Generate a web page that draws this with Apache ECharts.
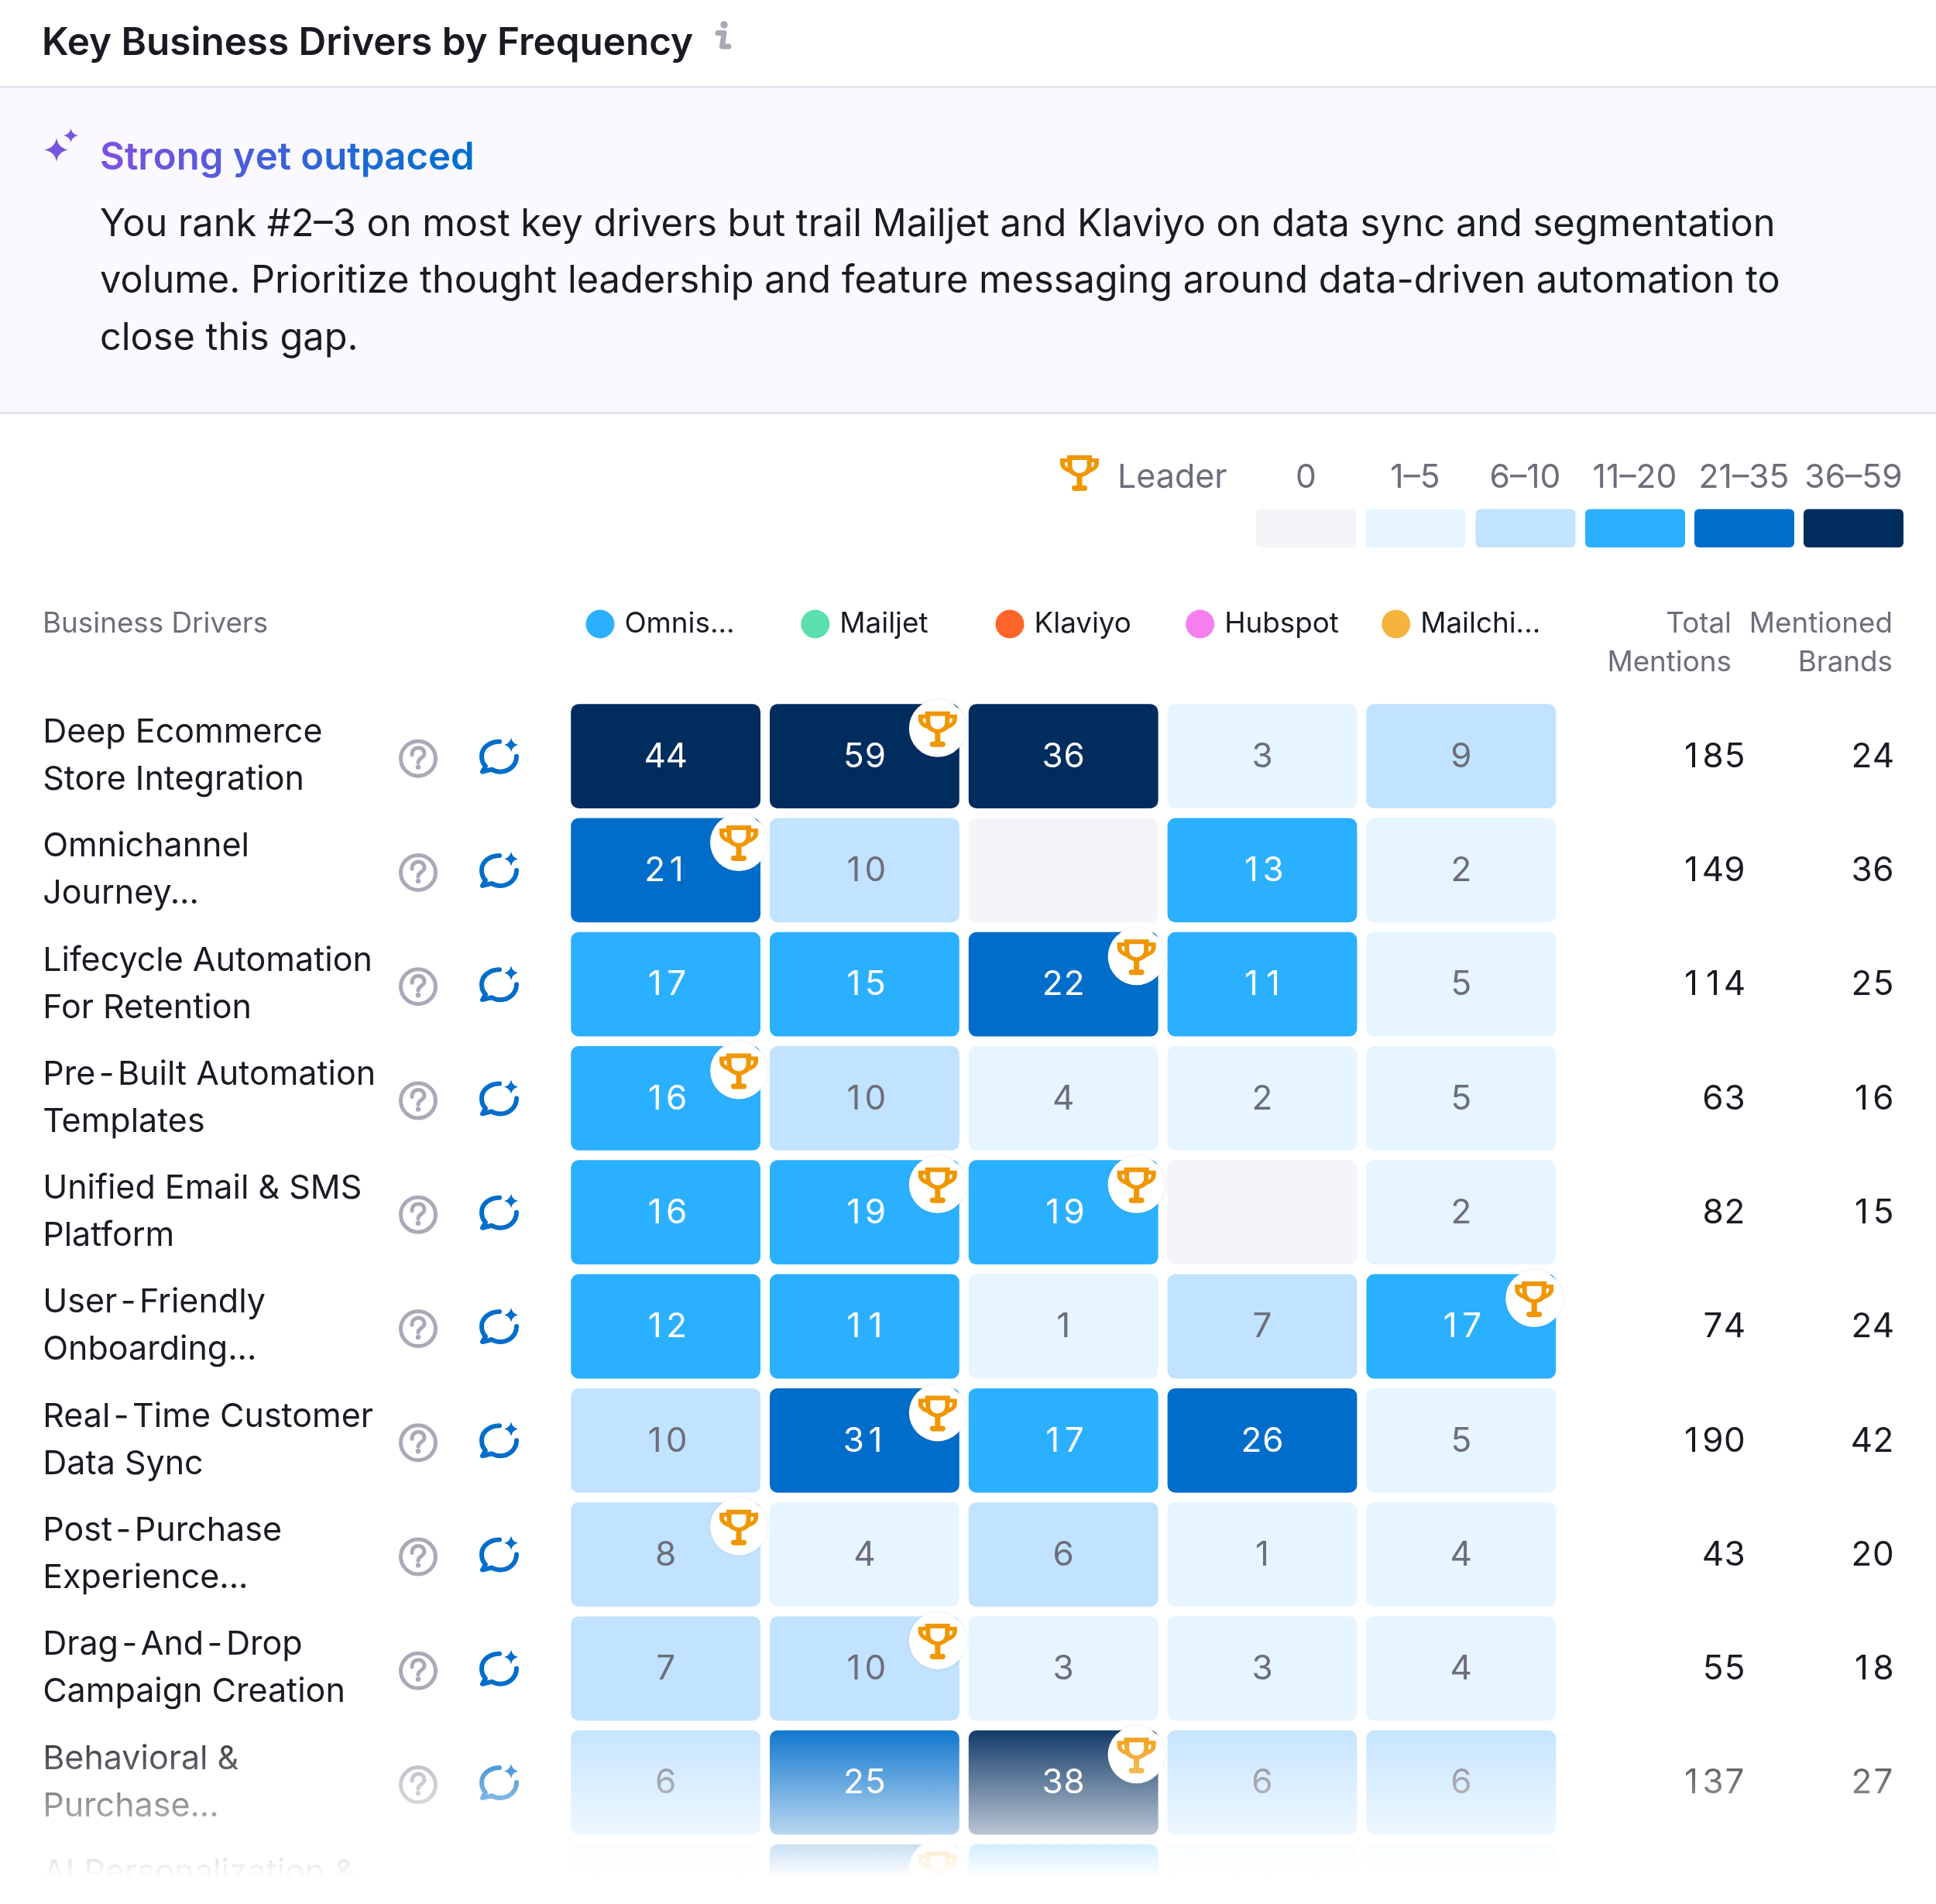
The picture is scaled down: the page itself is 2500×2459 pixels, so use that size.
<!DOCTYPE html>
<html><head><meta charset="utf-8">
<style>html,body{margin:0;padding:0;background:#fff;width:2500px;height:2459px;overflow:hidden}#w{width:2500px;height:2459px;overflow:hidden}#c{width:2500px;height:2600px}</style>
<script src="https://cdn.jsdelivr.net/npm/echarts@6/dist/echarts.min.js"></script>
</head><body><div id="w"><div id="c"></div></div>
<script>
const titleText = 'Key Business Drivers by Frequency';
const insightHead = 'Strong yet outpaced';
const insightLines = [
  'You rank #2\u20133 on most key drivers but trail Mailjet and Klaviyo on data sync and segmentation',
  'volume. Prioritize thought leadership and feature messaging around data-driven automation to',
  'close this gap.'
];
const drivers = [
  'Deep Ecommerce\nStore Integration','Omnichannel\nJourney...','Lifecycle Automation\nFor Retention',
  'Pre-Built Automation\nTemplates','Unified Email & SMS\nPlatform','User-Friendly\nOnboarding...',
  'Real-Time Customer\nData Sync','Post-Purchase\nExperience...','Drag-And-Drop\nCampaign Creation',
  'Behavioral &\nPurchase...','AI Personalization &\n'
];
const brands = ['Omnis...','Mailjet','Klaviyo','Hubspot','Mailchi...'];
const brandColors = ['#2bb0ff','#59e0ad','#ff642d','#f67fee','#f5b53d'];
// last row is almost faded out: its values are estimated from the tint of the cells
const omnisend = [44,21,17,16,16,12,10,8,7,6,0];
const mailjet  = [59,10,15,10,19,11,31,4,10,25,24];
const klaviyo  = [36,0,22,4,19,1,17,6,3,38,12];
const hubspot  = [3,13,11,2,0,7,26,1,3,6,2];
const mailchi  = [9,2,5,5,2,17,5,4,4,6,1];
const totalMentions = [185,149,114,63,82,74,190,43,55,137,null];
const mentionedBrands = [24,36,25,16,15,24,42,20,18,27,null];
const leaderCol = [[1],[0],[2],[0],[1,2],[4],[1],[0],[1],[2],[1]];
const binLabels = ['0','1\u20135','6\u201310','11\u201320','21\u201335','36\u201359'];
const binMax = [0,5,10,20,35,59];
const binColors = ['#f4f5f9','#e6f5ff','#c2e3ff','#2bb0ff','#006dca','#002c5e'];

const FONT = 'Inter';
const DARK = '#191b23', GREY = '#6c6e79';
const TROPHY = 'M9 0H41V4H50V10C50 16 45 20 39 22C36 25 32 27 28.5 28V39H32C34.5 39 35 41 35 42.5C35 44.5 33.5 46 32 46H18C16.5 46 15 44.5 15 42.5C15 41 15.5 39 18 39H21.5V28C18 27 14 25 11 22C5 20 0 16 0 10V4H9ZM15.5 6V14C15.5 19 20 23 25 23C30 23 34.5 19 34.5 14V6ZM6 9V11C6 13 7.5 15 9.5 16V9ZM44 9H40.5V16C42.5 15 44 13 44 11Z';
const BUBBLE = 'M25 5C12 5 2 13 2 24C2 29 4 34 7 37L3 44L15 41C19 43.5 22 44 26 44C38 44 47 35 47 24';
const STAR = 'M40 0Q41.5 7.5 49 9.3Q41.5 11 40 18.6Q38.5 11 31 9.3Q38.5 7.5 40 0Z';
const QMARK = 'M-8 -5C-8 -11 -4 -14 0 -14C5 -14 8 -11 8 -6C8 -1 0 -1 0 5';

const series5 = [omnisend,mailjet,klaviyo,hubspot,mailchi];
const cellData = [];
series5.forEach((arr,c)=>arr.forEach((v,r)=>cellData.push([c,r,v,leaderCol[r].includes(c)?1:0])));
const rowData = drivers.map((d,r)=>[0,r,totalMentions[r]==null?'-':totalMentions[r],mentionedBrands[r]==null?'-':mentionedBrands[r]]);
const colorFor = v => binColors[binMax.findIndex(m=>v<=m)];
const txt = (text,x,y,fill,font,align,z) => ({type:'text',x,y,z:z||5,style:{text,fill,font,align:align||'left',verticalAlign:'middle'}});
const F = (w,s)=>`${w} ${s}px ${FONT}`;
// tabular figures: every digit sits in a fixed slot
const tabular = (n,fill,x,y,align,z2) => ({type:'text',x,y,z2:z2||5,style:{
  text:String(n).split('').map(d=>`{d|${d}}`).join(''),align,verticalAlign:'middle',
  rich:{d:{width:28,align:'center',fill,fontFamily:FONT,fontSize:44}}}});

function trophyEl(x,y,fill){
  return {type:'path',z2:12,shape:{pathData:TROPHY,x,y,width:50,height:46,layout:'cover'},style:{fill}};
}
function hexMix(a,b,t){
  const p=h=>[1,3,5].map(i=>parseInt(h.substr(i,2),16));
  const A=p(a),B=p(b);
  return 'rgb('+A.map((v,i)=>Math.round(v+(B[i]-v)*t)).join(',')+')';
}
const headChars = insightHead.split('');
const headRich = {};
headChars.forEach((c,i)=>{headRich['c'+i]={fill:hexMix('#7a52e0','#0070d0',i/(headChars.length-1)),fontFamily:FONT,fontWeight:600,fontSize:49.1};});
const headFormatted = headChars.map((c,i)=>`{c${i}|${c}}`).join('');

const graphicEls = [
  {type:'rect',z:1,shape:{x:0,y:113,width:2500,height:420},style:{fill:{type:'linear',x:0,y:0,x2:1,y2:0,colorStops:[{offset:0,color:'#fbf9ff'},{offset:1,color:'#f7f9fe'}]}}},
  {type:'rect',z:2,shape:{x:0,y:111,width:2500,height:2.5},style:{fill:'#e0e1e9'}},
  {type:'rect',z:2,shape:{x:0,y:532,width:2500,height:2.5},style:{fill:'#e0e1e9'}},
  txt(titleText,54,56,DARK,F(600,49.4)),
  // info icon
  {type:'circle',z:5,shape:{cx:935,cy:32,r:4.7},style:{fill:'#a8a9b6'}},
  {type:'polyline',z:5,shape:{points:[[927,42.5],[935,42.5],[932.5,60],[941,60]]},style:{fill:null,stroke:'#a8a9b6',lineWidth:7,lineCap:'round',lineJoin:'round'}},
  {type:'text',x:129,y:204,z:5,style:{text:headFormatted,rich:headRich,align:'left',verticalAlign:'middle'}},
  ...insightLines.map((l,i)=>txt(l,129,290+i*73.5,DARK,F(400,48.7))),
  // legend
  txt('Leader',1443,617,GREY,F(400,43)),
  ...binLabels.map((l,i)=>txt(l,[1686.5,1827.5,1969.5,2111,2252,2393.5][i],617,GREY,F(400,42.6),'center')),
  ...binColors.map((c,i)=>({type:'rect',z:5,shape:{x:[1622,1763.5,1905.5,2047,2188,2329][i],y:657.5,width:129,height:49.5,r:6},style:{fill:c}})),
  txt('Business Drivers',55,806,GREY,F(400,36.8)),
  txt('Total',2236,806,GREY,F(400,36.8),'right'),
  txt('Mentions',2236,856,GREY,F(400,36.8),'right'),
  txt('Mentioned',2444,806,GREY,F(400,36.8),'right'),
  txt('Brands',2444,856,GREY,F(400,36.8),'right'),
  // bottom fade
  {type:'rect',z:1000,shape:{x:0,y:2220,width:2500,height:380},style:{fill:{type:'linear',x:0,y:0,x2:0,y2:1,colorStops:[{offset:0,color:'rgba(255,255,255,0)'},{offset:205/380,color:'rgba(255,255,255,1)'},{offset:1,color:'rgba(255,255,255,1)'}]}}}
];

const richX = {g:{width:13},n:{fontFamily:FONT,fontSize:36.8,color:DARK,lineHeight:50,verticalAlign:'middle'},s:{width:14}};
brandColors.forEach((c,i)=>{richX['d'+i]={width:37,height:37,borderRadius:18.5,backgroundColor:c};});

const option = {
  animation:false,
  backgroundColor:'#fff',
  grid:{left:731.2,top:903,width:1284,height:1620,containLabel:false},
  xAxis:{type:'category',position:'top',data:brands,axisLine:{show:false},axisTick:{show:false},splitLine:{show:false},
    axisLabel:{interval:0,margin:72,formatter:(v,i)=>`{d${i}|}{g|}{n|${v}}`+(i===0?'{s|}':''),rich:richX}},
  yAxis:{type:'category',inverse:true,data:drivers,axisLine:{show:false},axisTick:{show:false},splitLine:{show:false},
    axisLabel:{interval:0,align:'left',margin:676,color:DARK,fontFamily:FONT,fontSize:43,lineHeight:61,
      formatter:v=>v.replace(/-/g,'{h|-}'),
      rich:{h:{padding:[0,4.5],color:DARK,fontFamily:FONT,fontSize:43,lineHeight:61}}}},
  graphic:{elements:graphicEls},
  series:[
    {type:'custom',name:'decor',data:[[0,0]],clip:false,encode:{x:0,y:1},z:6,
     renderItem(){
       return {type:'group',children:[
         {type:'path',shape:{pathData:'M16 0Q18 13 31 15.5Q18 18 16 31Q14 18 0 15.5Q14 13 16 0Z',x:57,y:178,width:31,height:31,layout:'cover'},style:{fill:'#7756dd'}},
         {type:'path',shape:{pathData:'M9 0Q10 7 18 9Q10 11 9 18Q8 11 0 9Q8 7 9 0Z',x:82,y:166,width:19,height:18,layout:'cover'},style:{fill:'#7756dd'}},
         {type:'path',shape:{pathData:TROPHY,x:1369,y:588,width:50,height:46,layout:'cover'},style:{fill:'#f09600'}}
       ]};
     }},
    {type:'custom',name:'cells',data:cellData,clip:false,encode:{x:0,y:1},z:2,
     renderItem(params,api){
       const c=api.value(0),r=api.value(1),v=api.value(2),lead=api.value(3);
       const p=api.coord([c,r]),s=api.size([1,1]);
       const w=s[0]-12,h=s[1]-12.5,x=p[0]-w/2,y=p[1]-h/2;
       const kids=[{type:'rect',shape:{x,y,width:w,height:h,r:10},style:{fill:colorFor(v)}}];
       if(v>0 && totalMentions[r]!=null){
         kids.push(tabular(v,v>10?'#fff':GREY,p[0],p[1]+1,'center'));
       }
       if(lead){
         const cx=x+w-28,cy=y+31.5;
         kids.push({type:'circle',z2:11,shape:{cx,cy,r:37},style:{fill:'#fff',shadowBlur:4,shadowColor:'rgba(40,40,90,0.12)'}});
         kids.push(trophyEl(cx-25,cy-22,'#f09600'));
       }
       return {type:'group',children:kids};
     }},
    {type:'custom',name:'rows',data:rowData,clip:false,encode:{x:0,y:1},z:2,
     renderItem(params,api){
       const r=api.value(1),t=api.value(2),b=api.value(3);
       if(isNaN(t)) return {type:'group',children:[]};
       const yc=api.coord([0,r])[1];
       return {type:'group',children:[
         {type:'circle',shape:{cx:540,cy:yc+3,r:22.5},style:{fill:'none',stroke:'#a9aab7',lineWidth:5}},
         {type:'path',shape:{pathData:QMARK,x:532,y:yc-11,width:16,height:19,layout:'cover'},style:{fill:'none',stroke:'#a9aab7',lineWidth:5,lineCap:'round'}},
         {type:'circle',shape:{cx:540,cy:yc+14,r:3.2},style:{fill:'#a9aab7'}},
         {type:'path',shape:{pathData:BUBBLE,x:622,y:yc-19,width:45,height:39,layout:'cover'},style:{fill:'none',stroke:'#006dca',lineWidth:6,lineCap:'round',lineJoin:'round'}},
         {type:'path',shape:{pathData:STAR,x:651,y:yc-24,width:18,height:18.6,layout:'cover'},style:{fill:'#006dca'}},
         tabular(t,DARK,2254,yc+1,'right'),
         tabular(b,DARK,2446,yc+1,'right')
       ]};
     }}
  ]
};
const chart = echarts.init(document.getElementById('c'),null,{renderer:'canvas',width:2500,height:2600});
chart.setOption(option);
</script></body></html>
